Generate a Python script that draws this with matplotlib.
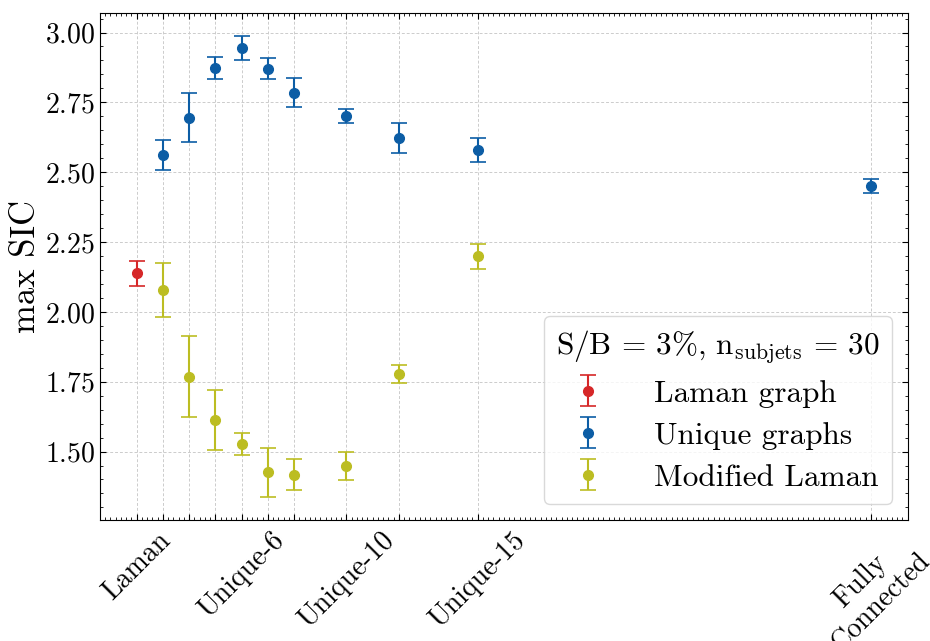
import numpy as np
import matplotlib
matplotlib.use("Agg")
import matplotlib.pyplot as plt
from matplotlib.ticker import MultipleLocator

# science-like look: Computer Modern text, inward ticks on all sides
plt.rcParams["font.family"] = "serif"
plt.rcParams["font.serif"] = ["cmr10"]
plt.rcParams["mathtext.fontset"] = "cm"
plt.rcParams["axes.formatter.use_mathtext"] = True
plt.rcParams["axes.unicode_minus"] = False

# x position = number of unique graphs - 2, laman at 0, fully connected at 28
laman_x = [0]
laman_y = [2.138]
laman_err = [0.044]

unique_x = [1, 2, 3, 4, 5, 6, 8, 10, 13, 28]
unique_y = [2.561, 2.695, 2.873, 2.944, 2.870, 2.785, 2.701, 2.623, 2.579, 2.451]
unique_err = [0.054, 0.088, 0.040, 0.044, 0.038, 0.052, 0.025, 0.053, 0.042, 0.025]

modlaman_x = [1, 2, 3, 4, 5, 6, 8, 10, 13]
modlaman_y = [2.079, 1.768, 1.612, 1.527, 1.426, 1.417, 1.448, 1.778, 2.199]
modlaman_err = [0.097, 0.145, 0.107, 0.040, 0.088, 0.056, 0.050, 0.032, 0.044]

tick_pos = [0, 1, 2, 3, 4, 5, 6, 8, 10, 13, 28]
tick_labels = ["Laman", "", "", "", "Unique-6", "", "", "Unique-10", "", "Unique-15",
               "Fully\nConnected"]

fig = plt.figure(figsize=(9.3, 6.41), dpi=100)
ax = fig.add_axes([0.1075, 0.189, 0.8685, 0.791])

style = dict(fmt="o", markersize=7, capsize=6, elinewidth=1.5, capthick=1.2)
ax.errorbar(laman_x, laman_y, yerr=laman_err, color="#d62728", label="Laman graph", **style)
ax.errorbar(unique_x, unique_y, yerr=unique_err, color="#0C5DA5", label="Unique graphs", **style)
ax.errorbar(modlaman_x, modlaman_y, yerr=modlaman_err, color="#bcbd22", label="Modified Laman", **style)

ax.set_xticks(tick_pos)
ax.set_xticklabels(tick_labels, rotation=45, fontsize=20)
ax.xaxis.set_minor_locator(MultipleLocator(0.2))
ax.yaxis.set_major_locator(MultipleLocator(0.25))
ax.yaxis.set_minor_locator(MultipleLocator(0.05))
ax.tick_params(axis="both", which="both", direction="in", top=True, right=True)
ax.tick_params(axis="both", which="major", length=4, width=0.8, labelsize=20)
ax.tick_params(axis="both", which="minor", length=2, width=0.6)
ax.tick_params(axis="x", which="major", pad=5)
ax.set_ylabel("max SIC", fontsize=25, labelpad=2)

ax.grid(True, which="major", linestyle=(0, (3, 2)), color="#cccccc", linewidth=0.7)
ax.set_axisbelow(True)

leg = ax.legend(loc="lower right", fontsize=22.5, title_fontsize=22.5,
                title=r"$\mathrm{S/B}\,=\,3\%,\,\mathrm{n_{subjets}}\,=\,30$",
                handletextpad=1.1, borderpad=0.4, labelspacing=0.45,
                borderaxespad=0.5)
leg.get_frame().set_edgecolor("#d0d0d0")

fig.savefig("out.png", dpi=100)
